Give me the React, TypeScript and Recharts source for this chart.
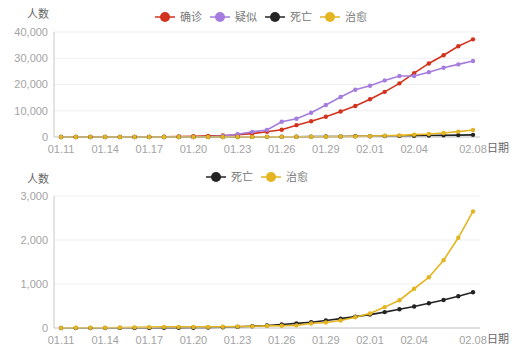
import { LineChart, Line, XAxis, YAxis, CartesianGrid, Legend } from 'recharts';

const dates = [
  '01.11', '01.12', '01.13', '01.14', '01.15', '01.16', '01.17', '01.18', '01.19', '01.20',
  '01.21', '01.22', '01.23', '01.24', '01.25', '01.26', '01.27', '01.28', '01.29', '01.30',
  '01.31', '02.01', '02.02', '02.03', '02.04', '02.05', '02.06', '02.07', '02.08',
];
const confirmed = [
  41, 41, 41, 41, 41, 45, 62, 121, 198, 291, 440, 571, 830, 1287, 1975, 2744, 4515, 5974, 7711, 9692,
  11791, 14380, 17205, 20438, 24324, 28018, 31161, 34546, 37198,
];
const suspected = [
  0, 0, 0, 0, 0, 0, 0, 0, 0, 0, 37, 393, 1072, 1965, 2684, 5794, 6973, 9239, 12167, 15238,
  17988, 19544, 21558, 23214, 23260, 24702, 26359, 27657, 28942,
];
const deaths = [
  1, 1, 1, 1, 2, 2, 2, 3, 3, 6, 9, 17, 25, 41, 56, 80, 106, 132, 170, 213,
  259, 304, 361, 425, 490, 563, 636, 722, 811,
];
const cured = [
  2, 7, 7, 7, 12, 15, 19, 25, 25, 25, 25, 28, 34, 38, 49, 51, 60, 103, 124, 171,
  243, 328, 475, 632, 892, 1153, 1540, 2050, 2649,
];
const xTicks = ['01.11', '01.14', '01.17', '01.20', '01.23', '01.26', '01.29', '02.01', '02.04', '02.08'];
const topTicks = [0, 10000, 20000, 30000, 40000];
const bottomTicks = [0, 1000, 2000, 3000];

const C_CONF = '#d3331c';
const C_SUSP = '#a47ddf';
const C_DEAD = '#232323';
const C_CURE = '#e4b520';

const data = dates.map((d, i) => ({
  date: d,
  确诊: confirmed[i],
  疑似: suspected[i],
  死亡: deaths[i],
  治愈: cured[i],
}));

const tickStyle = { fill: '#a3a3a3', fontSize: 11 };
const fmt = (v: number) => v.toLocaleString('en-US');

function LegendRow({ items, left }: { items: { name: string; color: string }[]; left: number }) {
  return (
    <div style={{ display: 'flex', alignItems: 'center', marginLeft: left, height: 20 }}>
      {items.map((it) => (
        <div key={it.name} style={{ display: 'flex', alignItems: 'center', marginRight: 8 }}>
          <svg width={20} height={12}>
            <line x1={0} y1={6} x2={20} y2={6} stroke={it.color} strokeWidth={1.5} />
            <circle cx={10} cy={6} r={5} fill={it.color} />
          </svg>
          <span style={{ marginLeft: 5, fontSize: 11, color: '#777', lineHeight: '12px' }}>{it.name}</span>
        </div>
      ))}
    </div>
  );
}

const axisName = (x: number, y: number, txt: string, anchor: 'start' | 'middle') => () => (
  <text x={x} y={y} textAnchor={anchor} dominantBaseline="central" fill="#666" fontSize={11}>
    {txt}
  </text>
);

const dot = (color: string) => ({ r: 2.2, fill: color, stroke: 'none' });

export default function App() {
  return (
    <div
      style={{
        position: 'absolute', left: 0, top: 0, width: 530, height: 353, background: '#fff',
        fontFamily: '"Liberation Sans", "Noto Sans CJK SC", sans-serif',
      }}
    >
      <LineChart width={530} height={160} data={data} margin={{ top: 32, right: 50, bottom: 3, left: 0 }}>
        <CartesianGrid vertical={false} stroke="#efefef" />
        <XAxis
          dataKey="date" ticks={xTicks} interval={0} padding={{ left: 7, right: 7 }}
          tick={tickStyle} tickLine={false} tickSize={4} tickMargin={4} height={20}
          axisLine={{ stroke: '#c8c8c8' }}
          label={{ content: axisName(487, 148, '日期', 'start') }}
        />
        <YAxis
          width={54} domain={[0, 40000]} ticks={topTicks} tickFormatter={fmt}
          tick={tickStyle} tickLine={false} tickSize={4} tickMargin={2}
          axisLine={{ stroke: '#c8c8c8' }}
          label={{ content: axisName(38, 14, '人数', 'middle') }}
        />
        <Legend
          layout="horizontal" verticalAlign="middle" align="center"
          wrapperStyle={{ top: 7, left: 0, width: 530 }}
          content={() => (
            <LegendRow
              left={155}
              items={[
                { name: '确诊', color: C_CONF },
                { name: '疑似', color: C_SUSP },
                { name: '死亡', color: C_DEAD },
                { name: '治愈', color: C_CURE },
              ]}
            />
          )}
        />
        <Line dataKey="确诊" stroke={C_CONF} strokeWidth={1.6} dot={dot(C_CONF)} isAnimationActive={false} />
        <Line dataKey="疑似" stroke={C_SUSP} strokeWidth={1.6} dot={dot(C_SUSP)} isAnimationActive={false} />
        <Line dataKey="死亡" stroke={C_DEAD} strokeWidth={1.6} dot={dot(C_DEAD)} isAnimationActive={false} />
        <Line dataKey="治愈" stroke={C_CURE} strokeWidth={1.6} dot={dot(C_CURE)} isAnimationActive={false} />
      </LineChart>
      <LineChart width={530} height={193} data={data} margin={{ top: 36, right: 50, bottom: 5, left: 0 }}>
        <CartesianGrid vertical={false} stroke="#efefef" />
        <XAxis
          dataKey="date" ticks={xTicks} interval={0} padding={{ left: 7, right: 7 }}
          tick={tickStyle} tickLine={false} tickSize={4} tickMargin={4} height={20}
          axisLine={{ stroke: '#c8c8c8' }}
          label={{ content: axisName(487, 179, '日期', 'start') }}
        />
        <YAxis
          width={54} domain={[0, 3000]} ticks={bottomTicks} tickFormatter={fmt}
          tick={tickStyle} tickLine={false} tickSize={4} tickMargin={2}
          axisLine={{ stroke: '#c8c8c8' }}
          label={{ content: axisName(38, 19, '人数', 'middle') }}
        />
        <Legend
          layout="horizontal" verticalAlign="middle" align="center"
          wrapperStyle={{ top: 7, left: 0, width: 530 }}
          content={() => (
            <LegendRow
              left={206}
              items={[
                { name: '死亡', color: C_DEAD },
                { name: '治愈', color: C_CURE },
              ]}
            />
          )}
        />
        <Line dataKey="死亡" stroke={C_DEAD} strokeWidth={1.6} dot={dot(C_DEAD)} isAnimationActive={false} />
        <Line dataKey="治愈" stroke={C_CURE} strokeWidth={1.6} dot={dot(C_CURE)} isAnimationActive={false} />
      </LineChart>
    </div>
  );
}
